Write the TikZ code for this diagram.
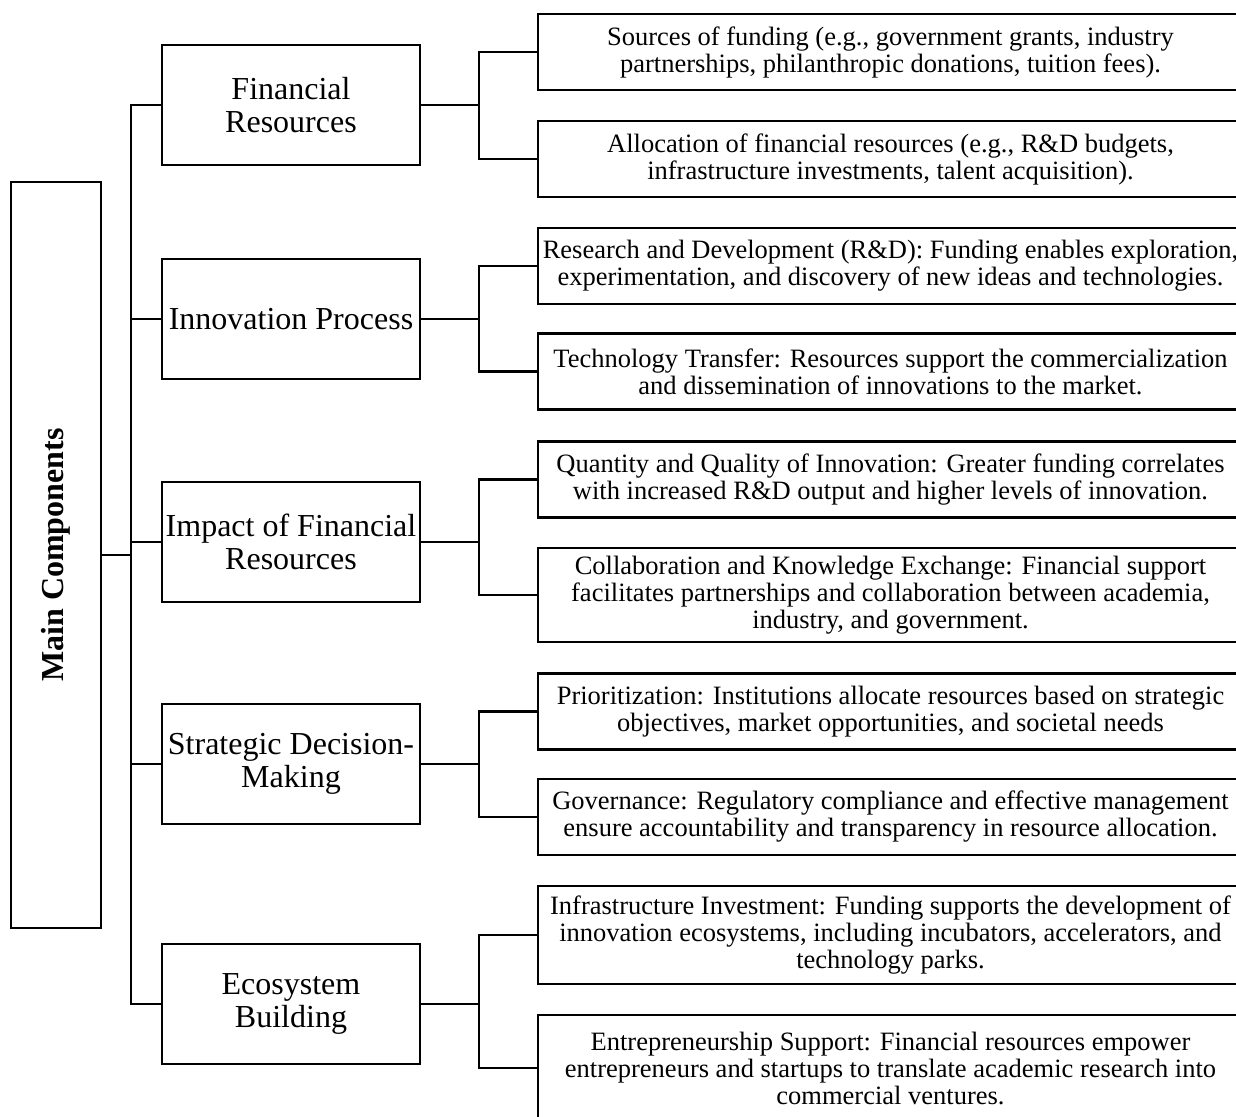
\documentclass[tikz,border=0pt]{standalone}
\usepackage{fontspec}
\setmainfont{Liberation Serif}
\begin{document}
\begin{tikzpicture}[x=0.5pt,y=-0.5pt,
  box/.style={draw, line width=1.3pt, inner sep=0pt, align=center},
  mainbox/.style={box, minimum width=45pt, minimum height=373pt},
  catbox/.style={box, minimum width=129pt, minimum height=60pt, font=\fontsize{16}{16.5}\selectfont},
  leafbox/.style={box, minimum width=352.5pt, minimum height=38pt, font=\fontsize{13.25}{13.5}\selectfont},
  conn/.style={line width=1.3pt}]
\useasboundingbox (0,0) rectangle (1236,1117);
\clip (0,0) rectangle (1236,1117);
% main
\node[mainbox] (main) at (56,555) {};
\node[rotate=90, font=\bfseries\fontsize{16}{18}\selectfont] (mainlabel) at (main.center) {Main Components};
% categories
\node[catbox] (c1) at (291,105) {Financial\\Resources};
\node[catbox] (c2) at (291,319) {Innovation Process};
\node[catbox] (c3) at (291,542) {Impact of Financial\\Resources};
\node[catbox] (c4) at (291,764) {Strategic Decision-\\Making};
\node[catbox] (c5) at (291,1004) {Ecosystem\\Building};
% leaves
\node[leafbox] (l1) at (890.5,52) {Sources of funding (e.g., government grants, industry\\partnerships, philanthropic donations, tuition fees).};
\node[leafbox] (l2) at (890.5,159) {Allocation of financial resources (e.g., R\&D budgets,\\infrastructure investments, talent acquisition).};
\node[leafbox] (l3) at (890.5,266) {Research and Development (R\&D): Funding enables exploration,\\experimentation, and discovery of new ideas and technologies.};
\node[leafbox] (l4) at (890.5,371.5) {Technology Transfer: Resources support the commercialization\\and dissemination of innovations to the market.};
\node[leafbox] (l5) at (890.5,479.5) {Quantity and Quality of Innovation: Greater funding correlates\\with increased R\&D output and higher levels of innovation.};
\node[leafbox, minimum height=47pt] (l6) at (890.5,595) {Collaboration and Knowledge Exchange: Financial support\\facilitates partnerships and collaboration between academia,\\industry, and government.};
\node[leafbox] (l7) at (890.5,711.5) {Prioritization: Institutions allocate resources based on strategic\\objectives, market opportunities, and societal needs};
\node[leafbox] (l8) at (890.5,817) {Governance: Regulatory compliance and effective management\\ensure accountability and transparency in resource allocation.};
\node[leafbox, minimum height=49pt] (l9) at (890.5,935) {Infrastructure Investment: Funding supports the development of\\innovation ecosystems, including incubators, accelerators, and\\technology parks.};
\node[leafbox, minimum height=53pt] (l10) at (890.5,1068) {Entrepreneurship Support: Financial resources empower\\entrepreneurs and startups to translate academic research into\\commercial ventures.};
% coordinates
\coordinate (t) at (131,555);
\coordinate (j1) at (479,105);
\coordinate (j2) at (479,319);
\coordinate (j3) at (479,542);
\coordinate (j4) at (479,764);
\coordinate (j5) at (479,1004);
% connectors
\draw[conn] (main.east) -- (t);
\draw[conn] (c1.west) -| (t) |- (c5.west);
\draw[conn] (t) |- (c2.west);
\draw[conn] (t) |- (c3.west);
\draw[conn] (t) |- (c4.west);
\draw[conn] (c1.east) -- (j1);
\draw[conn] (c2.east) -- (j2);
\draw[conn] (c3.east) -- (j3);
\draw[conn] (c4.east) -- (j4);
\draw[conn] (c5.east) -- (j5);
\draw[conn] (l1.west) -| (j1) |- (l2.west);
\draw[conn] (l3.west) -| (j2) |- (l4.west);
\draw[conn] (l5.west) -| (j3) |- (l6.west);
\draw[conn] (l7.west) -| (j4) |- (l8.west);
\draw[conn] (l9.west) -| (j5) |- (l10.west);
\end{tikzpicture}
\end{document}
